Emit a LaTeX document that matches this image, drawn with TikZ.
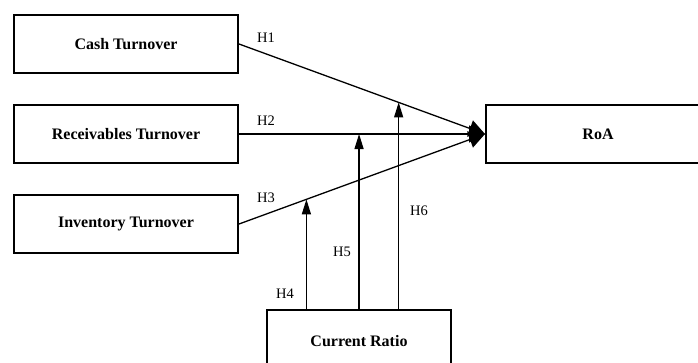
\documentclass[tikz,border=0pt]{standalone}
\usepackage{fontspec}
\setmainfont{Liberation Serif}
\usetikzlibrary{arrows.meta,calc}
\begin{document}
\begin{tikzpicture}[x=1pt,y=-1pt,
  box/.style={draw,line width=2pt,minimum width=224pt,minimum height=58pt,inner sep=0pt,font=\fontsize{16}{18}\selectfont\bfseries},
  conn/.style={line width=1.3pt},
  bigtip/.style={-{Triangle[length=16pt,width=17pt]}},
  smalltip/.style={-{Triangle[length=15pt,width=9pt]}},
  hlab/.style={font=\fontsize{14.5}{16}\selectfont,inner sep=0pt}]
\useasboundingbox (0,0) rectangle (698,362);
\node[box] (cash) at (126,44) {Cash Turnover};
\node[box] (rec) at (126,134) {Receivables Turnover};
\node[box] (inv) at (126,224) {Inventory Turnover};
\node[box] (roa) at (598,134) {RoA};
\node[box,minimum width=184pt,minimum height=62pt] (cr) at (359,341) {Current Ratio};
\draw[conn,bigtip] (cash.east) -- (roa.west);
\draw[conn,bigtip] (rec.east) -- (roa.west);
\draw[conn,bigtip] (inv.east) -- (roa.west);
\coordinate (p4) at ($(inv.east)!0.274!(roa.west)$);
\coordinate (p5) at ($(rec.east)!0.488!(roa.west)$);
\coordinate (p6) at ($(cash.east)!0.649!(roa.west)$);
\draw[conn,smalltip] (p4 |- cr.north) -- (p4);
\draw[conn,smalltip] (p5 |- cr.north) -- (p5);
\draw[conn,smalltip] (p6 |- cr.north) -- (p6);
\node[hlab] (h1) at (266,38) {H1};
\node[hlab] (h2) at (266,121) {H2};
\node[hlab] (h3) at (266,198) {H3};
\node[hlab] (h4) at (285,294) {H4};
\node[hlab] (h5) at (342,252) {H5};
\node[hlab] (h6) at (419,211) {H6};
\end{tikzpicture}
\end{document}
